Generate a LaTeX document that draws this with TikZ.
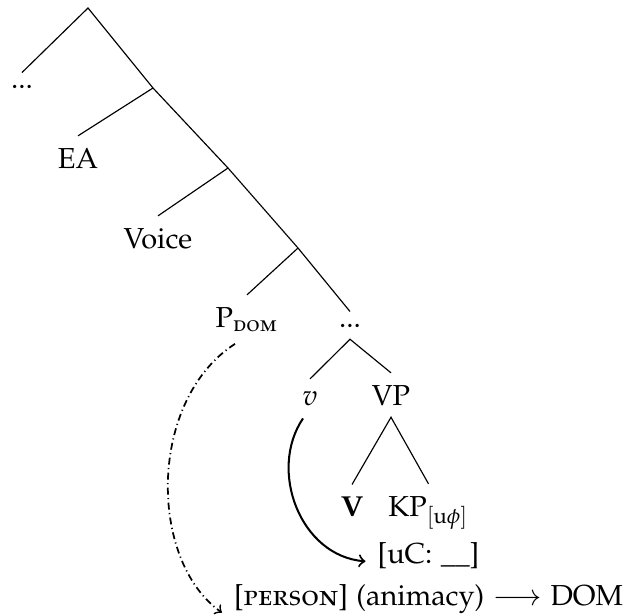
\documentclass[tikz,border=0pt]{standalone}
\usepackage[T1]{fontenc}
\usepackage[sc]{mathpazo}
\usetikzlibrary{calc}
\tikzset{
  lbl/.style={anchor=base, inner sep=4pt},
  branch/.style={line width=0.4pt},
  movearrow/.style={->, line width=0.7pt},
  agreearrow/.style={->, line width=0.6pt, dash pattern=on 2.4pt off 1.2pt on 0.4pt off 1.2pt}
}
\begin{document}
\begin{tikzpicture}[x=0.346pt, y=-0.346pt]
\useasboundingbox (0,0) rectangle (628,614);
% branching points
\coordinate (r0) at (88,8);
\coordinate (r1) at (153,88);
\coordinate (r2) at (228,168);
\coordinate (r3) at (298,248);
% labels
\node[lbl] (dots1) at (22,88) {...};
\node[lbl] (ea) at (78,168) {EA};
\node[lbl] (voice) at (158,248) {Voice};
\node[lbl] (pdom) at (247,327) {P\textsubscript{\textsc{dom}}};
\node[lbl] (dots2) at (350,327) {...};
\node[lbl] (v) at (310,405) {$v$};
\node[lbl] (vp) at (391,405) {VP};
\node[lbl] (vv) at (352,516) {\textbf{V}};
\node[lbl] (kp) at (428.5,516) {KP$_{[\mathrm{u}\phi]}$};
\node[lbl] (uc) at (428.5,563) {[uC: \_\_]};
\node[lbl] (bot) at (428.5,605) {[\textsc{person}] (animacy) $\longrightarrow$ DOM};
% tree
\draw[branch] (dots1.north) -- (r0) -- (r1) -- (r2) -- (r3) -- (dots2.north);
\draw[branch] (r1) -- (ea.north);
\draw[branch] (r2) -- (voice.north);
\draw[branch] (r3) -- (pdom.north);
\draw[branch] (v.north) -- (dots2.south) -- (vp.north);
\draw[branch] (vv.north) -- (vp.south) -- (kp.north);
% arrows
\draw[movearrow] ($(v.south)+(-7,1)$) .. controls (268,470) and (300,556) .. ($(uc.west)+(0,6)$);
\draw[agreearrow] ($(pdom.south)+(-12,0)$) .. controls (148,400) and (148,560) .. ($(bot.west)+(0,14)$);
\end{tikzpicture}
\end{document}
